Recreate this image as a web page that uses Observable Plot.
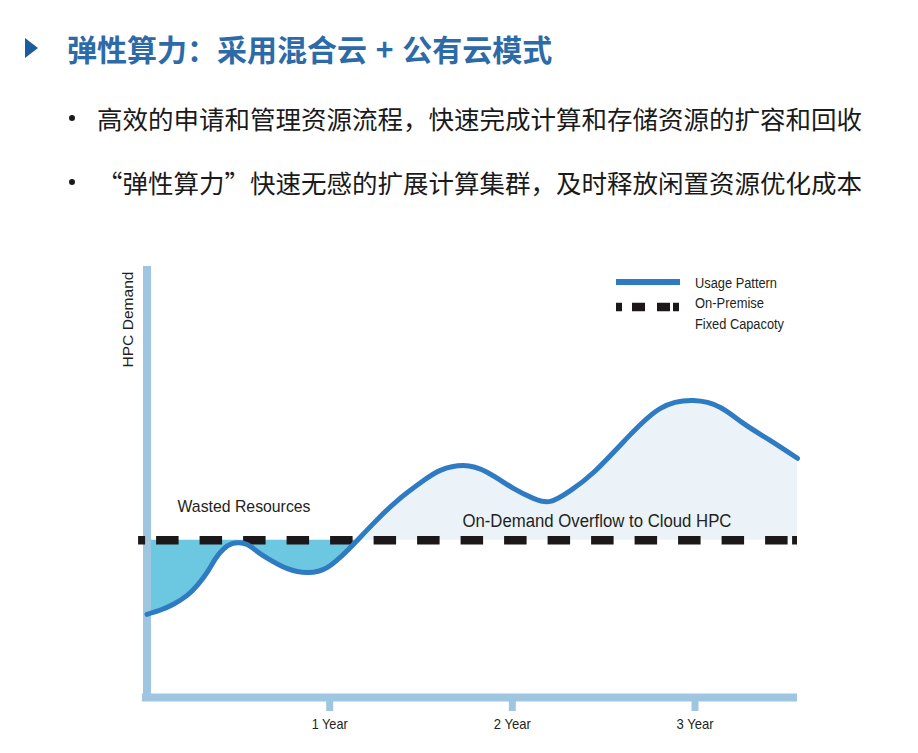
<!DOCTYPE html>
<html>
<head>
<meta charset="utf-8">
<script src="https://cdn.jsdelivr.net/npm/d3@7"></script>
<script src="https://cdn.jsdelivr.net/npm/@observablehq/plot@0.6"></script>
<style>
  html, body { margin: 0; padding: 0; background: #fff; }
  #page { position: relative; width: 918px; height: 753px; overflow: hidden; background: #fff; }
  .abs { position: absolute; white-space: nowrap; }
  .cjk { font-family: "Noto Sans CJK SC", sans-serif; }
</style>
</head>
<body>
<div id="page">
  <div class="abs" style="left:25px;top:38px;width:0;height:0;border-top:10px solid transparent;border-bottom:10px solid transparent;border-left:13px solid #1d5c9c;"></div>
  <div id="title" class="abs cjk" style="left:67px;top:32px;font-size:30px;line-height:32px;font-weight:bold;color:#2d6aa8;word-spacing:2px;"></div>
  <div class="abs" style="left:69px;top:115px;width:6px;height:6px;border-radius:50%;background:#1a1a1a;"></div>
  <div id="b1" class="abs cjk" style="left:97px;top:103px;font-size:25.5px;line-height:30px;color:#1a1a1a;"></div>
  <div class="abs" style="left:69px;top:179px;width:6px;height:6px;border-radius:50%;background:#1a1a1a;"></div>
  <div id="b2" class="abs cjk" style="left:97px;top:167px;font-size:25.5px;line-height:30px;color:#1a1a1a;"></div>
  <div id="chart" class="abs" style="left:0;top:250px;"></div>
  <svg class="abs" style="left:0;top:0;" width="918" height="753" id="legendsvg"></svg>
</div>
<script>
// ---- texts ----
const titleText = "弹性算力：采用混合云 + 公有云模式";
const bulletTexts = [
  "高效的申请和管理资源流程，快速完成计算和存储资源的扩容和回收",
  "“弹性算力”快速无感的扩展计算集群，及时释放闲置资源优化成本"
];
const legendLabels = ["Usage Pattern", "On-Premise", "Fixed Capacoty"];
const yAxisLabel = "HPC Demand";
const annotationTexts = ["Wasted Resources", "On-Demand Overflow to Cloud HPC"];
const annotationX = [0.531, 2.463];
const annotationY = [44.3, 40.8];

// ---- data ----
const years = [0, 0.074, 0.147, 0.220, 0.275, 0.330, 0.375, 0.420, 0.466, 0.502, 0.548, 0.603, 0.660,
  0.769, 0.878, 0.988, 1.097, 1.152,
  1.240, 1.371, 1.513, 1.606, 1.732, 1.864, 2.006, 2.115, 2.208, 2.318, 2.444, 2.630, 2.811, 2.991,
  3.139, 3.265, 3.413, 3.561];
const demand = [19.3, 20.3, 21.7, 23.7, 26.0, 29.1, 32.2, 34.5, 35.7, 35.9, 35.5, 33.9, 32.3,
  29.9, 29.0, 30.2, 34.1, 36.5,
  40.4, 45.7, 50.3, 52.7, 53.8, 52.2, 48.5, 46.2, 45.5, 48.0, 52.2, 60.3, 67.1, 68.9,
  67.3, 63.6, 59.6, 55.5];
const capacity = 36.5;
const crossingYear = 1.152;
const tickYears = [1, 2, 3];
const tickLabels = ["1 Year", "2 Year", "3 Year"];

document.getElementById("title").textContent = titleText;
document.getElementById("b1").textContent = bulletTexts[0];
document.getElementById("b2").textContent = bulletTexts[1];

const usage = years.map((x, i) => ({x, v: demand[i]}));
const wasted = usage.filter(d => d.x <= crossingYear);
const overflow = usage.filter(d => d.x >= crossingYear);
const annotations = annotationTexts.map((t, i) => ({t, x: annotationX[i], y: annotationY[i]}));

const axisColor = "#9fc6e1";
const lineColor = "#2f7bc3";
const dashColor = "#1c1718";
const textColor = "#231f20";
const curveType = "natural";
const latinFont = "'Liberation Sans', Arial, sans-serif";

// condensed look: fixed rendered widths (style)
const fitWidth = new Map([
  [annotationTexts[0], 133], [annotationTexts[1], 269],
  [tickLabels[0], 36], [tickLabels[1], 37], [tickLabels[2], 37],
  [yAxisLabel, 96]
]);

// dash pattern for capacity line (small end pieces at both ends)
const dashParts = [7, 11];
for (let k = 0; k < 15; k++) dashParts.push(22.5, k === 14 ? 4.5 : 21);
dashParts.push(6, 200);

const xMin = -0.046, xMax = 3.561;

const plot = Plot.plot({
  width: 918,
  height: 503,
  marginLeft: 146.5,
  marginRight: 121,
  marginTop: 16,
  marginBottom: 56,
  x: {domain: [0, xMax], axis: null},
  y: {domain: [0, 100], axis: null},
  style: {fontFamily: latinFont, background: "#fff", overflow: "visible"},
  marks: [
    Plot.areaY(wasted, {x: "x", y1: "v", y2: () => capacity, fill: "#6cc8e0", curve: curveType}),
    Plot.areaY(overflow, {x: "x", y1: () => capacity, y2: "v", fill: "#ebf3f8", curve: curveType}),
    Plot.axisX(tickYears, {tickSize: 14, stroke: axisColor, strokeWidth: 7, tickFormat: () => "", label: null}),
    Plot.ruleX([0], {y1: -0.95, y2: 100, stroke: axisColor, strokeWidth: 8}),
    Plot.ruleY([0], {x1: -0.025, x2: xMax, stroke: axisColor, strokeWidth: 8}),
    Plot.axisX(tickYears, {tickSize: 0, tickPadding: 21, tickFormat: (d, i) => tickLabels[i], fontSize: 14.5, fill: textColor, label: null}),
    Plot.ruleY([capacity], {x1: xMin, x2: xMax, stroke: dashColor, strokeWidth: 8.5, strokeDasharray: dashParts.join(" ")}),
    Plot.line(usage, {x: "x", y: "v", stroke: lineColor, strokeWidth: 5, curve: curveType}),
    Plot.text(annotations.slice(0, 1), {x: "x", y: "y", text: "t", fontSize: 17, fill: textColor}),
    Plot.text(annotations.slice(1), {x: "x", y: "y", text: "t", fontSize: 18, fill: textColor}),
    Plot.text([yAxisLabel], {x: () => -0.101, y: () => 87.7, text: d => d, rotate: -90, fontSize: 15, fill: textColor})
  ]
});
d3.select(plot).selectAll("text").each(function () {
  const w = fitWidth.get(this.textContent);
  if (w) { this.setAttribute("textLength", w); this.setAttribute("lengthAdjust", "spacingAndGlyphs"); }
});
document.getElementById("chart").appendChild(plot);

// ---- legend ----
const lsvg = d3.select("#legendsvg");
lsvg.append("line").attr("x1", 616).attr("x2", 680).attr("y1", 282).attr("y2", 282)
  .attr("stroke", lineColor).attr("stroke-width", 6);
lsvg.append("line").attr("x1", 616).attr("x2", 680).attr("y1", 307).attr("y2", 307)
  .attr("stroke", dashColor).attr("stroke-width", 8.5).attr("stroke-dasharray", "6 10 13 12 13 3 6 50");
const legendY = [283, 303.5, 324.5];
const legendW = [82, 69, 89];
legendLabels.forEach((t, i) => {
  lsvg.append("text").attr("x", 695).attr("y", legendY[i]).attr("dy", "0.35em")
    .attr("font-family", latinFont).attr("font-size", 14).attr("fill", textColor)
    .attr("textLength", legendW[i]).attr("lengthAdjust", "spacingAndGlyphs").text(t);
});
</script>
</body>
</html>
